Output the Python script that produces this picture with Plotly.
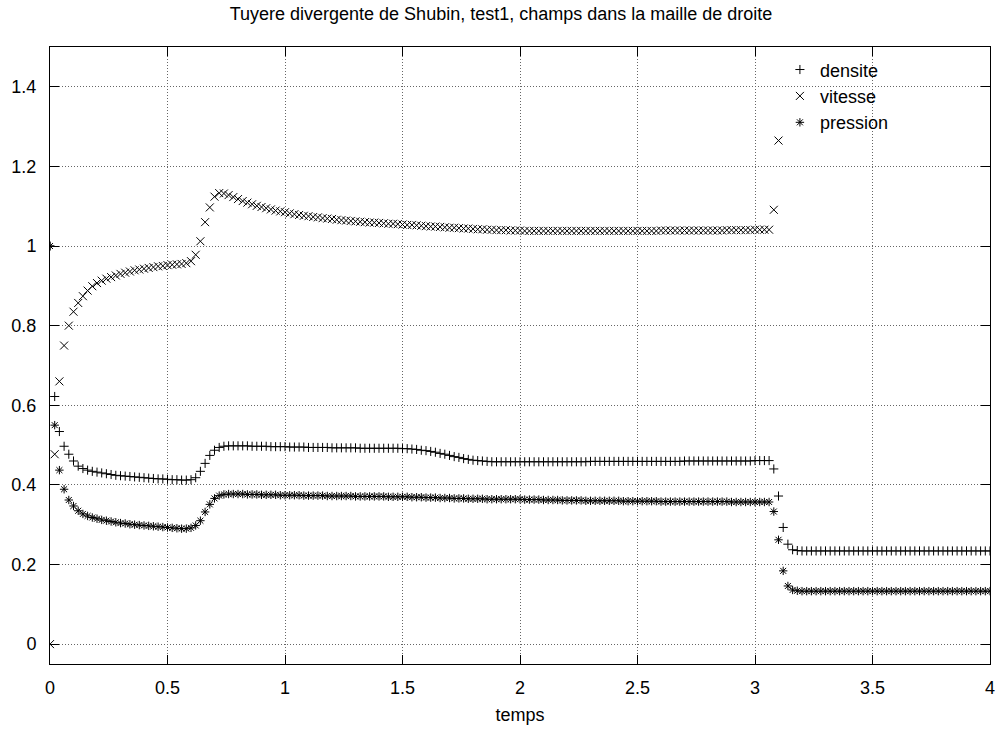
import plotly.graph_objects as go

# pas de temps des sorties (lecture : ~0.02)
pas = 0.02
n_points = 201
temps = [round(pas * i, 2) for i in range(n_points)]

densite = [
    1.000, 0.622, 0.534, 0.497, 0.477, 0.460, 0.447, 0.441, 0.437, 0.434,
    0.432, 0.430, 0.428, 0.426, 0.424, 0.423, 0.422, 0.421, 0.420, 0.419,
    0.418, 0.417, 0.416, 0.415, 0.415, 0.414, 0.413, 0.413, 0.412, 0.412,
    0.413, 0.418, 0.434, 0.454, 0.474, 0.487, 0.494, 0.497, 0.498, 0.498,
    0.498, 0.498, 0.498, 0.497, 0.497, 0.497, 0.497, 0.496, 0.496, 0.496,
    0.496, 0.495, 0.495, 0.495, 0.495, 0.494, 0.494, 0.494, 0.494, 0.494,
    0.493, 0.493, 0.493, 0.493, 0.493, 0.493, 0.492, 0.492, 0.492, 0.492,
    0.492, 0.492, 0.492, 0.492, 0.492, 0.491, 0.491, 0.490, 0.489, 0.487,
    0.486, 0.484, 0.482, 0.479, 0.477, 0.474, 0.471, 0.469, 0.466, 0.464,
    0.462, 0.461, 0.460, 0.459, 0.458, 0.458, 0.458, 0.458, 0.458, 0.458,
    0.458, 0.458, 0.458, 0.458, 0.458, 0.458, 0.458, 0.458, 0.458, 0.458,
    0.458, 0.458, 0.458, 0.458, 0.458, 0.459, 0.459, 0.459, 0.459, 0.459,
    0.459, 0.459, 0.459, 0.459, 0.459, 0.459, 0.459, 0.459, 0.459, 0.459,
    0.459, 0.459, 0.459, 0.459, 0.459, 0.460, 0.460, 0.460, 0.460, 0.460,
    0.460, 0.460, 0.460, 0.460, 0.460, 0.460, 0.460, 0.460, 0.460, 0.460,
    0.461, 0.461, 0.461, 0.461, 0.440, 0.372, 0.293, 0.251, 0.237, 0.235,
    0.234, 0.234, 0.234, 0.234, 0.234, 0.234, 0.234, 0.234, 0.234, 0.234,
    0.234, 0.234, 0.234, 0.234, 0.234, 0.234, 0.234, 0.234, 0.234, 0.234,
    0.234, 0.234, 0.234, 0.234, 0.234, 0.234, 0.234, 0.234, 0.234, 0.234,
    0.234, 0.234, 0.234, 0.234, 0.234, 0.234, 0.234, 0.234, 0.234, 0.234,
    0.234,
]

# au-dela de t=3.1 la vitesse sort du cadre (> 1.5)
vitesse = [
    0.000, 0.477, 0.660, 0.750, 0.800, 0.835, 0.857, 0.874, 0.888, 0.899,
    0.907, 0.913, 0.918, 0.922, 0.926, 0.930, 0.933, 0.936, 0.939, 0.941,
    0.943, 0.945, 0.947, 0.949, 0.950, 0.952, 0.953, 0.954, 0.955, 0.957,
    0.962, 0.978, 1.012, 1.060, 1.097, 1.124, 1.133, 1.132, 1.128, 1.123,
    1.118, 1.113, 1.109, 1.105, 1.101, 1.098, 1.095, 1.092, 1.089, 1.087,
    1.085, 1.082, 1.080, 1.078, 1.076, 1.075, 1.073, 1.072, 1.070, 1.069,
    1.068, 1.066, 1.065, 1.064, 1.063, 1.062, 1.061, 1.060, 1.059, 1.059,
    1.058, 1.057, 1.056, 1.056, 1.055, 1.054, 1.053, 1.053, 1.052, 1.051,
    1.050, 1.049, 1.049, 1.048, 1.047, 1.046, 1.046, 1.045, 1.044, 1.044,
    1.043, 1.042, 1.042, 1.041, 1.041, 1.040, 1.040, 1.040, 1.039, 1.039,
    1.039, 1.038, 1.038, 1.038, 1.038, 1.038, 1.038, 1.038, 1.038, 1.038,
    1.038, 1.038, 1.038, 1.038, 1.038, 1.038, 1.038, 1.038, 1.038, 1.038,
    1.038, 1.038, 1.038, 1.038, 1.038, 1.038, 1.038, 1.038, 1.038, 1.038,
    1.039, 1.039, 1.039, 1.039, 1.039, 1.039, 1.039, 1.039, 1.039, 1.039,
    1.039, 1.039, 1.039, 1.039, 1.040, 1.040, 1.040, 1.040, 1.040, 1.040,
    1.041, 1.041, 1.041, 1.041, 1.091, 1.265,
]

pression = [
    1.000, 0.550, 0.437, 0.389, 0.362, 0.347, 0.335, 0.327, 0.322, 0.318,
    0.315, 0.312, 0.310, 0.308, 0.306, 0.304, 0.303, 0.301, 0.300, 0.299,
    0.298, 0.297, 0.296, 0.295, 0.294, 0.293, 0.292, 0.291, 0.290, 0.290,
    0.292, 0.298, 0.310, 0.332, 0.351, 0.366, 0.373, 0.376, 0.377, 0.377,
    0.377, 0.377, 0.376, 0.376, 0.376, 0.375, 0.375, 0.375, 0.375, 0.374,
    0.374, 0.374, 0.374, 0.374, 0.373, 0.373, 0.373, 0.373, 0.373, 0.372,
    0.372, 0.372, 0.372, 0.372, 0.372, 0.371, 0.371, 0.371, 0.371, 0.371,
    0.371, 0.371, 0.370, 0.370, 0.370, 0.370, 0.370, 0.369, 0.369, 0.369,
    0.368, 0.368, 0.368, 0.367, 0.367, 0.367, 0.366, 0.366, 0.366, 0.365,
    0.365, 0.365, 0.365, 0.364, 0.364, 0.364, 0.364, 0.364, 0.364, 0.364,
    0.364, 0.363, 0.363, 0.363, 0.363, 0.362, 0.362, 0.362, 0.362, 0.361,
    0.361, 0.361, 0.361, 0.361, 0.360, 0.360, 0.360, 0.360, 0.360, 0.360,
    0.360, 0.360, 0.359, 0.359, 0.359, 0.359, 0.359, 0.359, 0.359, 0.359,
    0.358, 0.358, 0.358, 0.358, 0.358, 0.358, 0.358, 0.358, 0.358, 0.358,
    0.358, 0.358, 0.358, 0.358, 0.358, 0.357, 0.357, 0.357, 0.357, 0.357,
    0.357, 0.357, 0.357, 0.357, 0.333, 0.262, 0.184, 0.146, 0.136, 0.134,
    0.133, 0.133, 0.133, 0.133, 0.133, 0.133, 0.133, 0.133, 0.133, 0.133,
    0.133, 0.133, 0.133, 0.133, 0.133, 0.133, 0.133, 0.133, 0.133, 0.133,
    0.133, 0.133, 0.133, 0.133, 0.133, 0.133, 0.133, 0.133, 0.133, 0.133,
    0.133, 0.133, 0.133, 0.133, 0.133, 0.133, 0.133, 0.133, 0.133, 0.133,
    0.133,
]

x_ticks = [0, 0.5, 1, 1.5, 2, 2.5, 3, 3.5, 4]
y_ticks = [0, 0.2, 0.4, 0.6, 0.8, 1, 1.2, 1.4]

FONT = "Liberation Sans, Arial, Helvetica, sans-serif"

series = [
    ("densite", densite, "cross-thin", 6.5),
    ("vitesse", vitesse, "x-thin", 8),
    ("pression", pression, "asterisk", 7),
]

fig = go.Figure()
for name, vals, sym, size in series:
    fig.add_trace(go.Scatter(
        x=temps[:len(vals)], y=vals, mode="markers", name=name,
        marker=dict(symbol=sym, size=size, color="black",
                    line=dict(width=1, color="black")),
    ))

axis_common = dict(
    showline=True, linecolor="black", linewidth=1, mirror="allticks",
    ticks="inside", ticklen=9, tickwidth=1, tickcolor="black",
    showgrid=True, gridcolor="#666666", gridwidth=1, griddash="1px,2px",
    zeroline=False, automargin=False,
    tickfont=dict(family=FONT, size=18, color="black"),
)

fig.update_xaxes(range=[0, 4], tickvals=x_ticks,
                 ticktext=[f"{v:g}" for v in x_ticks],
                 title=dict(text="temps", font=dict(family=FONT, size=18, color="black"),
                            standoff=11),
                 ticklabelstandoff=7,
                 **axis_common)
fig.update_yaxes(range=[-0.05, 1.5], tickvals=y_ticks,
                 ticktext=[f"{v:g}" for v in y_ticks],
                 ticklabelstandoff=9,
                 **axis_common)

fig.update_layout(
    width=1002, height=733,
    margin=dict(l=50, r=12, t=47, b=69, autoexpand=False),
    paper_bgcolor="white", plot_bgcolor="white",
    font=dict(family=FONT, size=18, color="black"),
    title=dict(text="Tuyere divergente de Shubin, test1, champs dans la maille de droite",
               x=0.5, xanchor="center", y=1 - 14 / 733, yanchor="middle",
               font=dict(family=FONT, size=18, color="black")),
    legend=dict(x=0.7765, y=0.993, xanchor="left", yanchor="top",
                bgcolor="rgba(0,0,0,0)", borderwidth=0,
                font=dict(family=FONT, size=18, color="black"),
                itemwidth=30, tracegroupgap=0),
    showlegend=True,
)

fig.write_html(
    "out.html",
    config={"displayModeBar": False},
    post_script="document.body.style.margin='0';document.body.style.overflow='hidden';",
)
